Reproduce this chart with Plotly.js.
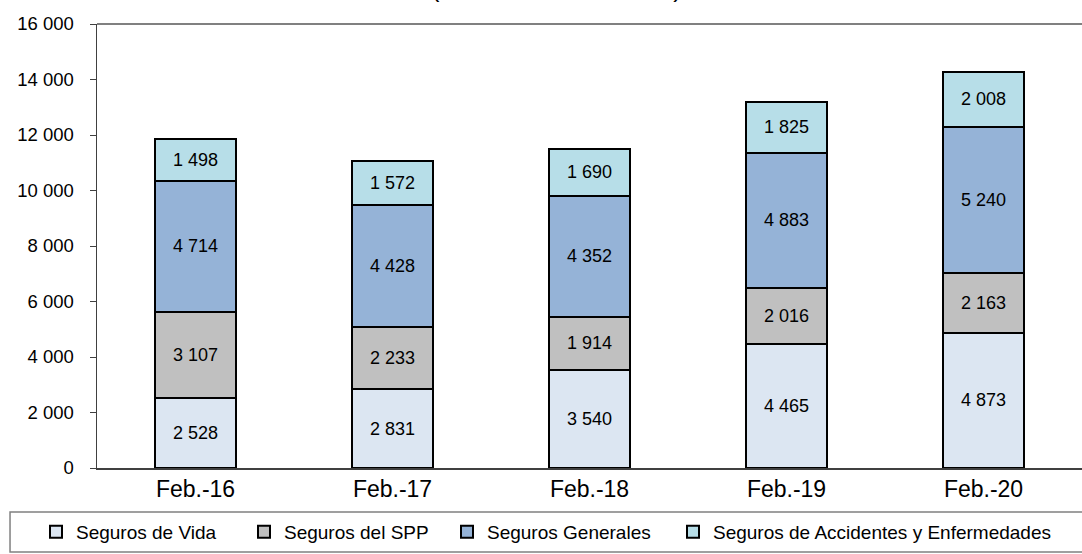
<!DOCTYPE html>
<html>
<head>
<meta charset="utf-8">
<script src="https://cdn.plot.ly/plotly-3.0.1.min.js"></script>
<style>
  html, body { margin: 0; padding: 0; background: #fff; }
  #myDiv { width: 1082px; height: 554px; }
</style>
</head>
<body>
<div id="myDiv"></div>
<script>
// periods and series (millones de soles)
var periods = ["Feb.-16", "Feb.-17", "Feb.-18", "Feb.-19", "Feb.-20"];
var vida = [2528, 2831, 3540, 4465, 4873];
var spp = [3107, 2233, 1914, 2016, 2163];
var generales = [4714, 4428, 4352, 4883, 5240];
var accidentes = [1498, 1572, 1690, 1825, 2008];
var seriesNames = ["Seguros de Vida", "Seguros del SPP", "Seguros Generales", "Seguros de Accidentes y Enfermedades"];
var yTicks = [0, 2000, 4000, 6000, 8000, 10000, 12000, 14000, 16000];

var fnt = "Liberation Sans, Arial, sans-serif";
var W = 1082, H = 554;

function makeTrace(vals, idx, color) {
  return {
    x: periods,
    y: vals,
    name: seriesNames[idx],
    type: 'bar',
    legend: idx === 0 ? 'legend' : 'legend' + (idx + 1),
    marker: { color: color, line: { color: '#000', width: 2 } },
    texttemplate: '%{y:,d}',
    textposition: 'inside',
    insidetextanchor: 'middle',
    textangle: 0,
    constraintext: 'none',
    textfont: { family: fnt, size: 18, color: '#000' },
    hoverinfo: 'none'
  };
}

var data = [
  makeTrace(vida, 0, '#dce6f2'),
  makeTrace(spp, 1, '#c0c0c0'),
  makeTrace(generales, 2, '#95b3d7'),
  makeTrace(accidentes, 3, '#b7dee8')
];

// one legend per series so each entry sits where the original has it
function legendAt(px) {
  return {
    xref: 'container', yref: 'container',
    x: px / W, xanchor: 'left',
    y: 1 - 532 / H, yanchor: 'middle',
    orientation: 'h',
    font: { family: fnt, size: 19, color: '#000' },
    bgcolor: 'rgba(0,0,0,0)',
    borderwidth: 0
  };
}

var layout = {
  width: W,
  height: H,
  margin: { l: 97, r: 0, t: 24, b: 86 },
  paper_bgcolor: '#fff',
  plot_bgcolor: '#fff',
  separators: ', ',
  barmode: 'stack',
  bargap: 0.59,
  font: { family: fnt, size: 19, color: '#000' },
  showlegend: true,
  legend: legendAt(36),
  legend2: legendAt(244),
  legend3: legendAt(447),
  legend4: legendAt(673),
  xaxis: {
    type: 'category',
    showgrid: false,
    showline: true,
    linecolor: '#404040',
    linewidth: 1.5,
    ticks: '',
    ticklabelstandoff: 0,
    tickfont: { family: fnt, size: 23, color: '#000' },
    fixedrange: true
  },
  yaxis: {
    range: [0, 16000],
    tickvals: yTicks,
    tickformat: ',d',
    showgrid: false,
    zeroline: false,
    showline: true,
    linecolor: '#404040',
    linewidth: 1.5,
    ticks: 'outside',
    ticklen: 6,
    tickcolor: '#404040',
    ticklabelstandoff: 12,
    tickfont: { family: fnt, size: 18.5, color: '#000' },
    fixedrange: true
  },
  shapes: [
    // top border of plot area
    { type: 'line', xref: 'paper', yref: 'paper', x0: 0, x1: 1, y0: 1, y1: 1,
      line: { color: '#808080', width: 2 } },
    // legend frame
    { type: 'rect', xref: 'paper', yref: 'paper', x0: -0.0883, x1: 1.02, y0: -0.0991, y1: -0.1892,
      line: { color: '#808080', width: 1.5 }, fillcolor: 'rgba(0,0,0,0)' }
  ],
  annotations: [
    // title sits mostly above the visible area, as in the original
    { text: '(En millones de soles)', xref: 'paper', yref: 'paper', x: 0.466, y: 1.045,
      xanchor: 'center', yanchor: 'bottom', showarrow: false,
      font: { family: fnt, size: 25.5, color: '#000' } }
  ]
};

Plotly.newPlot('myDiv', data, layout, { displayModeBar: false, staticPlot: true });
</script>
</body>
</html>
